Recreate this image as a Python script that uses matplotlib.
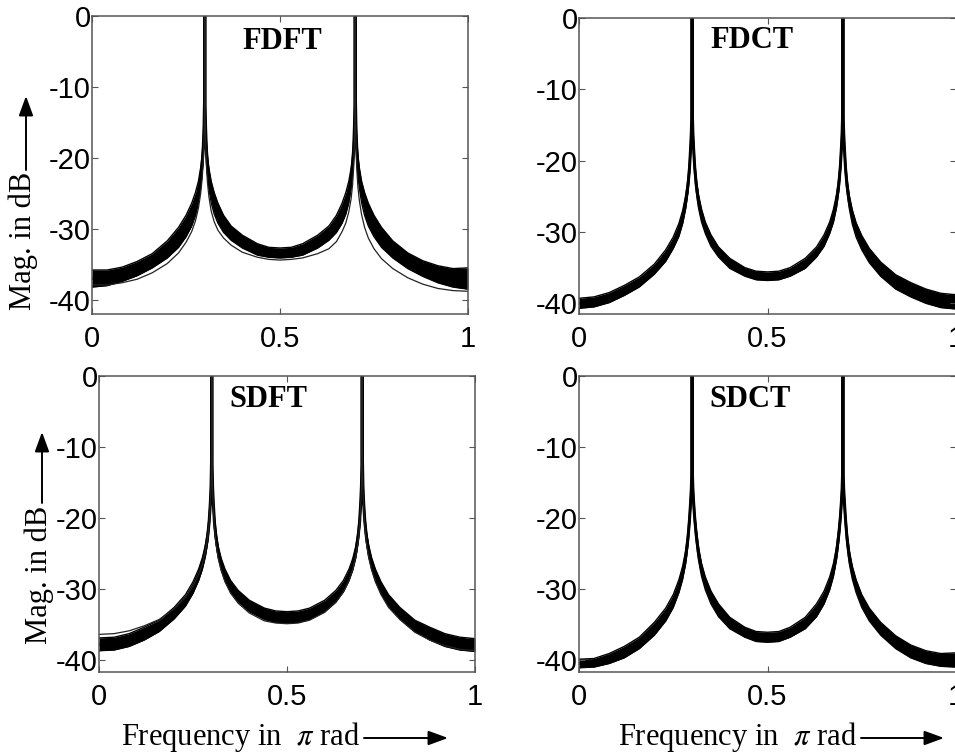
import numpy as np
import matplotlib
matplotlib.use('Agg')
import matplotlib.pyplot as plt
from matplotlib.patches import FancyArrowPatch

plt.rcParams['axes.unicode_minus'] = False
plt.rcParams['mathtext.fontset'] = 'stix'

# ---------------- data ----------------
freq = [0, 0.04, 0.08, 0.12, 0.16, 0.2, 0.23, 0.25, 0.265, 0.275, 0.283, 0.289, 0.293, 0.296, 0.298, 0.2993,
        0.3,
        0.3007, 0.302, 0.304, 0.307, 0.311, 0.317, 0.325, 0.335, 0.35, 0.37, 0.4, 0.44, 0.47, 0.5,
        0.53, 0.56, 0.6, 0.63, 0.65, 0.665, 0.675, 0.683, 0.689, 0.693, 0.696, 0.698, 0.6993,
        0.7,
        0.7007, 0.702, 0.704, 0.707, 0.711, 0.717, 0.725, 0.735, 0.75, 0.77, 0.8, 0.84, 0.88, 0.92, 0.96, 1.0]

fdft_center = [-37.0, -36.9, -36.4, -35.6, -34.5, -32.9, -31.2, -29.6, -28.0, -26.5, -24.8, -22.8, -20.9, -18.5, -15.6, -12.0,
               0.0,
               -12.0, -15.6, -18.6, -21.0, -22.9, -24.8, -26.4, -27.8, -29.3, -30.6, -31.8, -32.9, -33.3, -33.4,
               -33.3, -32.9, -31.8, -30.6, -29.3, -27.8, -26.4, -24.8, -22.9, -21.0, -18.6, -15.6, -12.0,
               0.0,
               -12.0, -15.6, -18.5, -20.9, -22.8, -24.8, -26.5, -28.0, -29.6, -31.2, -32.9, -34.5, -35.6, -36.4, -36.9, -37.0]
fdft_width = [1.2, 1.1, 1.0, 1.0, 1.0, 1.2, 1.4, 1.5, 1.6, 1.6, 1.5, 1.4, 1.3, 1.2, 1.0, 0.8,
              0.3,
              0.8, 1.0, 1.2, 1.3, 1.4, 1.5, 1.5, 1.4, 1.2, 1.0, 0.9, 0.8, 0.7, 0.7,
              0.7, 0.8, 0.9, 1.0, 1.2, 1.4, 1.5, 1.5, 1.4, 1.3, 1.2, 1.0, 0.8,
              0.3,
              0.8, 1.0, 1.2, 1.3, 1.4, 1.5, 1.6, 1.6, 1.5, 1.4, 1.2, 1.1, 1.1, 1.2, 1.3, 1.5]
fdft_outlier = [-37.9, -37.9, -37.6, -37.1, -36.2, -34.9, -33.4, -31.9, -30.4, -28.9, -27.1, -25.0, -22.9, -20.3, -17.2, -13.0,
                0.0,
                -13.0, -17.4, -20.8, -23.4, -25.5, -27.5, -29.0, -30.2, -31.3, -32.3, -33.3, -34.0, -34.3, -34.4,
                -34.3, -34.1, -33.5, -32.8, -31.8, -30.4, -29.2, -27.6, -25.8, -23.8, -21.3, -17.8, -13.2,
                0.0,
                -13.2, -18.0, -21.4, -24.0, -26.0, -28.0, -29.8, -31.3, -32.8, -34.2, -35.6, -36.9, -37.8, -38.4, -38.7, -38.8]

fdct_center = [-40.0, -39.8, -39.2, -38.2, -37.0, -35.2, -33.3, -31.5, -29.7, -27.9, -25.8, -23.5, -21.1, -18.3, -16.0, -13.5,
               0.0,
               -13.5, -16.0, -18.3, -21.0, -23.4, -25.7, -27.7, -29.4, -31.2, -32.8, -34.4, -35.6, -36.1, -36.2,
               -36.1, -35.6, -34.4, -32.8, -31.2, -29.4, -27.7, -25.7, -23.4, -21.0, -18.3, -16.0, -13.5,
               0.0,
               -13.5, -16.0, -18.3, -21.1, -23.5, -25.8, -27.9, -29.7, -31.5, -33.3, -35.2, -37.0, -38.1, -39.0, -39.6, -39.8]
fdct_width = [0.7, 0.7, 0.7, 0.7, 0.7, 0.7, 0.8, 0.8, 0.9, 0.9, 0.9, 0.9, 0.9, 0.9, 0.9, 0.8,
              0.3,
              0.8, 0.9, 0.9, 0.9, 0.9, 0.9, 0.9, 0.8, 0.8, 0.7, 0.7, 0.6, 0.6, 0.6,
              0.6, 0.6, 0.7, 0.7, 0.8, 0.8, 0.9, 0.9, 0.9, 0.9, 0.9, 0.9, 0.8,
              0.3,
              0.8, 0.9, 0.9, 0.9, 0.9, 0.9, 1.0, 1.0, 1.0, 1.0, 1.0, 1.0, 1.0, 1.0, 1.0, 1.0]

sdft_center = [-37.8, -37.7, -37.2, -36.3, -35.2, -33.4, -31.6, -29.8, -28.0, -26.4, -24.6, -22.6, -20.5, -18.0, -15.5, -12.0,
               0.0,
               -12.0, -15.5, -17.9, -20.6, -22.7, -24.8, -26.5, -28.0, -29.6, -31.0, -32.4, -33.5, -33.9, -34.0,
               -33.9, -33.5, -32.4, -31.0, -29.6, -28.0, -26.5, -24.8, -22.7, -20.6, -17.9, -15.5, -12.0,
               0.0,
               -12.0, -15.5, -18.0, -20.5, -22.6, -24.6, -26.4, -28.0, -29.8, -31.6, -33.4, -35.2, -36.3, -37.2, -37.7, -37.9]
sdft_width = [0.9, 0.9, 0.9, 0.9, 0.8, 0.8, 0.8, 0.8, 0.8, 0.8, 0.8, 0.8, 0.8, 0.8, 0.8, 0.7,
              0.3,
              0.7, 0.8, 0.8, 0.8, 0.8, 0.8, 0.8, 0.8, 0.8, 0.8, 0.8, 0.8, 0.8, 0.8,
              0.8, 0.8, 0.8, 0.8, 0.8, 0.8, 0.8, 0.8, 0.8, 0.8, 0.8, 0.8, 0.7,
              0.3,
              0.7, 0.8, 0.8, 0.8, 0.8, 0.8, 0.8, 0.8, 0.8, 0.8, 0.8, 0.8, 0.9, 0.9, 0.9, 0.9]
sdft_outlier = [-36.4, -36.3, -35.9, -35.2, -34.3, -32.8, -31.2, -29.6, -28.0, -26.5, -24.7, -22.7, -20.6, -18.1, -15.6, -12.1,
                0.0,
                -12.2, -15.9, -18.5, -21.3, -23.5, -25.6, -27.4, -29.0, -30.6, -32.0, -33.4, -34.5, -34.8, -34.9,
                -34.8, -34.4, -33.3, -31.9, -30.4, -28.8, -27.2, -25.4, -23.3, -21.2, -18.4, -15.8, -12.2,
                0.0,
                -12.1, -15.9, -18.6, -21.2, -23.4, -25.5, -27.3, -29.0, -30.8, -32.6, -34.3, -36.1, -37.2, -38.0, -38.5, -38.7]

sdct_center = [-40.5, -40.4, -39.8, -38.9, -37.6, -35.6, -33.6, -31.7, -29.6, -27.7, -25.5, -22.9, -20.3, -17.8, -15.8, -13.5,
               0.0,
               -13.5, -15.8, -17.8, -20.1, -22.4, -25.0, -27.3, -29.2, -31.2, -33.0, -34.8, -36.1, -36.7, -36.8,
               -36.7, -36.1, -34.8, -33.0, -31.2, -29.2, -27.3, -25.0, -22.4, -20.1, -17.8, -15.8, -13.5,
               0.0,
               -13.5, -15.8, -17.8, -20.3, -22.9, -25.5, -27.7, -29.6, -31.7, -33.6, -35.6, -37.5, -38.8, -39.6, -40.0, -40.0]
sdct_width = [0.6, 0.6, 0.7, 0.8, 0.8, 0.9, 0.9, 0.9, 0.9, 0.9, 0.9, 0.9, 0.9, 0.9, 0.9, 0.8,
              0.3,
              0.8, 0.9, 0.9, 0.9, 0.9, 0.9, 0.9, 0.9, 0.9, 0.9, 0.8, 0.7, 0.7, 0.7,
              0.7, 0.7, 0.8, 0.9, 0.9, 0.9, 0.9, 0.9, 0.9, 0.9, 0.9, 0.9, 0.8,
              0.3,
              0.8, 0.9, 0.9, 0.9, 0.9, 0.9, 0.9, 0.9, 0.9, 0.9, 0.9, 0.9, 0.9, 0.9, 0.9, 1.0]

panel_titles = ['FDFT', 'FDCT', 'SDFT', 'SDCT']
xtick_vals = [0, 0.5, 1]
xtick_labels = ['0', '0.5', '1']
ytick_vals = [0, -10, -20, -30, -40]
ytick_labels = ['0', '-10', '-20', '-30', '-40']
ylabel_text = 'Mag. in dB'
xlabel_text = r'Frequency in  $\pi$ rad'

# ---------------- figure ----------------
W, H = 955, 756
fig = plt.figure(figsize=(W / 100, H / 100), dpi=100)


def rect(left, top, right, bottom):
    return [left / W, 1 - bottom / H, (right - left) / W, (bottom - top) / H]


panels = [
    dict(rect=rect(92, 16, 468, 314), center=fdft_center, width=fdft_width, extra=[fdft_outlier],
         ylim=(-42.0, 0), title=(0.505, 0.915)),
    dict(rect=rect(579, 18, 956, 314), center=fdct_center, width=fdct_width, extra=[],
         ylim=(-41.5, 0), title=(0.46, 0.925)),
    dict(rect=rect(99, 376, 475, 672), center=sdft_center, width=sdft_width, extra=[sdft_outlier],
         ylim=(-41.7, 0), title=(0.45, 0.92)),
    dict(rect=rect(579, 376, 956, 672), center=sdct_center, width=sdct_width, extra=[],
         ylim=(-41.7, 0), title=(0.455, 0.92)),
]

f = np.array(freq)
for p, title in zip(panels, panel_titles):
    ax = fig.add_axes(p['rect'])
    c = np.array(p['center'])
    w = np.array(p['width'])
    ax.fill_between(f, c - w, c + w, color='black', lw=0)
    ax.plot(f, c + w, color='black', lw=1.0)
    ax.plot(f, c - w, color='black', lw=1.0)
    ax.plot(f, c, color='black', lw=2.2)
    for o in p['extra']:
        ax.plot(f, o, color='#222222', lw=0.9)
    ax.set_xlim(0, 1)
    ax.set_ylim(*p['ylim'])
    ax.set_xticks(xtick_vals)
    ax.set_xticklabels(xtick_labels)
    ax.set_yticks(ytick_vals)
    ax.set_yticklabels(ytick_labels)
    ax.tick_params(direction='in', length=4, width=0.8, top=True, right=True, colors='#555555',
                   labelcolor='black')
    ax.tick_params(axis='x', pad=8)
    ax.tick_params(axis='y', pad=1)
    for lab in ax.get_xticklabels() + ax.get_yticklabels():
        lab.set_fontfamily('Liberation Sans')
        lab.set_fontsize(21)
    for s in ax.spines.values():
        s.set_color('#555555')
        s.set_linewidth(1.1)
    ax.text(p['title'][0], p['title'][1], title, transform=ax.transAxes, ha='center', va='center',
            fontsize=22, fontweight='bold', family='Liberation Serif')


def fx(px):
    return px / W


def fy(py):
    return 1 - py / H


def arrow(x0, y0, x1, y1):
    fig.add_artist(FancyArrowPatch((fx(x0), fy(y0)), (fx(x1), fy(y1)), transform=fig.transFigure,
                                   arrowstyle='-|>,head_length=0.6,head_width=0.22', mutation_scale=20,
                                   lw=1.4, color='black', shrinkA=0, shrinkB=0))


# y-axis labels with upward arrows
fig.text(fx(23), fy(241), ylabel_text, rotation=90, ha='center', va='center', fontsize=22,
         family='Liberation Serif')
arrow(26, 170, 26, 96)
fig.text(fx(39), fy(575), ylabel_text, rotation=90, ha='center', va='center', fontsize=22,
         family='Liberation Serif')
arrow(42, 503, 42, 432)

# x-axis labels with right arrows
fig.text(fx(360), fy(737), xlabel_text, ha='right', va='center', fontsize=22, family='Liberation Serif')
arrow(364, 738, 448, 738)
fig.text(fx(857), fy(737), xlabel_text, ha='right', va='center', fontsize=22, family='Liberation Serif')
arrow(861, 738, 944, 738)

fig.savefig('out.png', dpi=100)
